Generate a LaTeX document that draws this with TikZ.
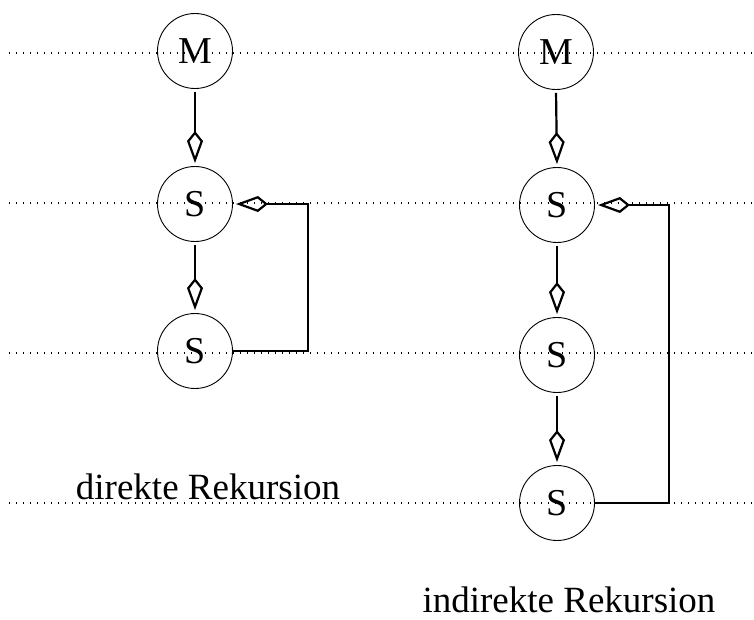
\documentclass[tikz,border=0pt]{standalone}
\usepackage{fontspec}
\setmainfont{Liberation Serif}
\usetikzlibrary{arrows.meta}
\begin{document}
\begin{tikzpicture}[x=1pt,y=-1pt,
  level/.style={line width=1.1pt, dash pattern=on 1.1pt off 5.9pt},
  proc/.style={circle, draw, line width=0.9pt, minimum size=75pt, inner sep=0pt,
    font=\fontsize{38}{40}\selectfont},
  call/.style={draw, line width=2.2pt,
    -{Kite[open, length=32pt, width=16pt, inset=10pt]},
    shorten <=3pt, shorten >=3pt},
  caption/.style={font=\fontsize{37}{40}\selectfont, inner sep=0pt, anchor=base}]
\useasboundingbox (0,0) rectangle (754,619);

% levels of the call hierarchy
\foreach \y in {53,203,353,503}
  \draw[level] (9,\y) -- (754,\y);

% direct recursion
\node[proc] (m1) at (195,51)  {M};
\node[proc] (s1) at (195,204) {S};
\node[proc] (s2) at (195,351) {S};
\draw[call] (m1.south) -- (s1.north);
\draw[call] (s1.south) -- (s2.north);
\coordinate (r1) at (308,351);
\draw[call, shorten <=0pt] (s2.east) -- (r1) |- (s1.east);
\node[caption] (c1) at (208,499) {direkte Rekursion};

% indirect recursion
\node[proc] (m2) at (556,52)  {M};
\node[proc] (t1) at (557,205) {S};
\node[proc] (t2) at (557,355) {S};
\node[proc] (t3) at (557,503) {S};
\draw[call] (m2.south) -- (t1.north);
\draw[call] (t1.south) -- (t2.north);
\draw[call] (t2.south) -- (t3.north);
\coordinate (r2) at (669,503);
\draw[call, shorten <=0pt] (t3.east) -- (r2) |- (t1.east);
\node[caption] (c2) at (569,612) {indirekte Rekursion};
\end{tikzpicture}
\end{document}
